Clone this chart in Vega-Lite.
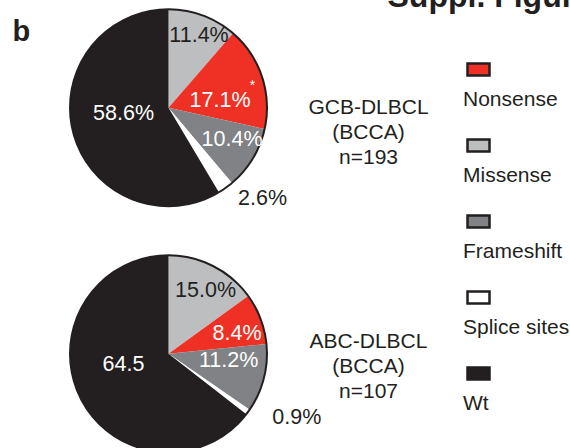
{
  "$schema": "https://vega.github.io/schema/vega-lite/v6.json",
  "width": 337,
  "height": 448,
  "autosize": {"type": "none"},
  "padding": {"left": 0, "top": 0, "right": 233, "bottom": 0},
  "background": "white",
  "config": {
    "view": {"stroke": null},
    "font": "Liberation Sans",
    "text": {"font": "Liberation Sans", "fontSize": 21.5, "baseline": "middle", "align": "center"},
    "axis": {
      "labels": false,
      "ticks": false,
      "domain": false,
      "grid": false,
      "titleAngle": 0,
      "titleAlign": "left",
      "titleBaseline": "alphabetic",
      "titleFont": "Liberation Sans",
      "titleFontWeight": "bold",
      "titleColor": "#231F20"
    }
  },
  "resolve": {"axis": {"y": "independent"}},
  "data": {
    "values": [
      {"group": "GCB-DLBCL", "cohort": "BCCA", "n": 193, "category": "Missense", "pct": 11.4, "note": ""},
      {"group": "GCB-DLBCL", "cohort": "BCCA", "n": 193, "category": "Nonsense", "pct": 17.1, "note": "*"},
      {"group": "GCB-DLBCL", "cohort": "BCCA", "n": 193, "category": "Frameshift", "pct": 10.4, "note": ""},
      {"group": "GCB-DLBCL", "cohort": "BCCA", "n": 193, "category": "Splice sites", "pct": 2.6, "note": ""},
      {"group": "GCB-DLBCL", "cohort": "BCCA", "n": 193, "category": "Wt", "pct": 58.6, "note": ""},
      {"group": "ABC-DLBCL", "cohort": "BCCA", "n": 107, "category": "Missense", "pct": 15.0, "note": ""},
      {"group": "ABC-DLBCL", "cohort": "BCCA", "n": 107, "category": "Nonsense", "pct": 8.4, "note": ""},
      {"group": "ABC-DLBCL", "cohort": "BCCA", "n": 107, "category": "Frameshift", "pct": 11.2, "note": ""},
      {"group": "ABC-DLBCL", "cohort": "BCCA", "n": 107, "category": "Splice sites", "pct": 0.9, "note": ""},
      {"group": "ABC-DLBCL", "cohort": "BCCA", "n": 107, "category": "Wt", "pct": 64.5, "note": ""}
    ]
  },
  "transform": [
    {"calculate": "indexof(['Missense', 'Nonsense', 'Frameshift', 'Splice sites', 'Wt'], datum.category)", "as": "slot"},
    {"stack": "pct", "groupby": ["group"], "sort": [{"field": "slot", "order": "ascending"}], "offset": "normalize", "as": ["t0", "t1"]},
    {"calculate": "(datum.t0 + datum.t1) / 2", "as": "tm"},
    {"calculate": "format(datum.pct, '.1f') + '%'", "as": "plabel"}
  ],
  "encoding": {
    "y": {
      "field": "group",
      "type": "nominal",
      "scale": {"type": "point", "padding": 0, "domain": ["GCB-DLBCL", "ABC-DLBCL"], "range": [107.7, 353.8]},
      "axis": null
    }
  },
  "layer": [
    {
      "mark": {"type": "arc", "radius": 98.5},
      "encoding": {
        "y": {
          "field": "group",
          "type": "nominal",
          "axis": {"orient": "left", "title": "b", "titleX": 12, "titleY": 40, "titleFontSize": 29}
        },
        "theta": {"field": "t0", "type": "quantitative", "scale": {"domain": [0, 1]}, "stack": null},
        "theta2": {"field": "t1"},
        "color": {
          "field": "category",
          "type": "nominal",
          "scale": {
            "domain": ["Nonsense", "Missense", "Frameshift", "Splice sites", "Wt"],
            "range": ["#EE3124", "#BCBEC0", "#808285", "#FFFFFF", "#231F20"]
          },
          "legend": {
            "orient": "none",
            "legendX": 466,
            "legendY": 57,
            "title": null,
            "padding": 0,
            "symbolType": "M-1,-0.55H1V0.55H-1Z",
            "symbolSize": 484,
            "symbolStrokeWidth": 2.5,
            "symbolStrokeColor": "#231F20",
            "symbolOpacity": 1,
            "labelFont": "Liberation Sans",
            "labelFontSize": 21,
            "labelColor": "#231F20",
            "labelOffset": -28,
            "labelLimit": 0,
            "rowPadding": 23,
            "encode": {
              "labels": {"update": {"dy": {"value": 30}}},
              "symbols": {"update": {"stroke": {"value": "#231F20"}, "strokeWidth": {"value": 2.5}}}
            }
          }
        }
      }
    },
    {
      "mark": {"type": "arc", "radius": 98.5, "filled": false, "stroke": "#231F20", "strokeWidth": 2},
      "encoding": {
        "y": {
          "field": "group",
          "type": "nominal",
          "axis": {"orient": "right", "title": "Suppl. Figure", "titleX": 50, "titleY": 6, "titleFontSize": 32}
        },
        "theta": {"field": "t0", "aggregate": "min", "type": "quantitative", "scale": {"domain": [0, 1]}, "stack": null},
        "theta2": {"field": "t1", "aggregate": "max"}
      }
    },
    {
      "transform": [{"filter": "datum.group === 'GCB-DLBCL' && datum.category === 'Missense'"}],
      "mark": {"type": "text", "radius": 77.5, "thetaOffset": 0.047, "color": "#231F20"},
      "encoding": {"theta": {"field": "tm", "type": "quantitative", "scale": {"domain": [0, 1]}, "stack": null}, "text": {"field": "plabel"}}
    },
    {
      "transform": [{"filter": "datum.group === 'GCB-DLBCL' && datum.category === 'Nonsense'"}],
      "mark": {"type": "text", "radius": 51.9, "thetaOffset": 0.198, "color": "#FFFFFF"},
      "encoding": {"theta": {"field": "tm", "type": "quantitative", "scale": {"domain": [0, 1]}, "stack": null}, "text": {"field": "plabel"}}
    },
    {
      "transform": [{"filter": "datum.group === 'GCB-DLBCL' && datum.category === 'Nonsense'"}],
      "mark": {"type": "text", "radius": 86.6, "thetaOffset": 0.071, "color": "#FFFFFF", "fontSize": 14},
      "encoding": {"theta": {"field": "tm", "type": "quantitative", "scale": {"domain": [0, 1]}, "stack": null}, "text": {"field": "note"}}
    },
    {
      "transform": [{"filter": "datum.group === 'GCB-DLBCL' && datum.category === 'Frameshift'"}],
      "mark": {"type": "text", "radius": 71.5, "thetaOffset": -0.068, "color": "#FFFFFF"},
      "encoding": {"theta": {"field": "tm", "type": "quantitative", "scale": {"domain": [0, 1]}, "stack": null}, "text": {"field": "plabel"}}
    },
    {
      "transform": [{"filter": "datum.group === 'GCB-DLBCL' && datum.category === 'Splice sites'"}],
      "mark": {"type": "text", "radius": 131, "thetaOffset": -0.182, "color": "#231F20"},
      "encoding": {"theta": {"field": "tm", "type": "quantitative", "scale": {"domain": [0, 1]}, "stack": null}, "text": {"field": "plabel"}}
    },
    {
      "transform": [{"filter": "datum.group === 'GCB-DLBCL' && datum.category === 'Wt'"}],
      "mark": {"type": "text", "radius": 45.4, "thetaOffset": 0.129, "color": "#FFFFFF"},
      "encoding": {"theta": {"field": "tm", "type": "quantitative", "scale": {"domain": [0, 1]}, "stack": null}, "text": {"field": "plabel"}}
    },
    {
      "transform": [{"filter": "datum.group === 'ABC-DLBCL' && datum.category === 'Missense'"}],
      "mark": {"type": "text", "radius": 72.5, "thetaOffset": 0.065, "color": "#231F20"},
      "encoding": {"theta": {"field": "tm", "type": "quantitative", "scale": {"domain": [0, 1]}, "stack": null}, "text": {"field": "plabel"}}
    },
    {
      "transform": [{"filter": "datum.group === 'ABC-DLBCL' && datum.category === 'Nonsense'"}],
      "mark": {"type": "text", "radius": 71.3, "thetaOffset": 0.084, "color": "#FFFFFF"},
      "encoding": {"theta": {"field": "tm", "type": "quantitative", "scale": {"domain": [0, 1]}, "stack": null}, "text": {"field": "plabel"}}
    },
    {
      "transform": [{"filter": "datum.group === 'ABC-DLBCL' && datum.category === 'Frameshift'"}],
      "mark": {"type": "text", "radius": 60.5, "thetaOffset": -0.133, "color": "#FFFFFF"},
      "encoding": {"theta": {"field": "tm", "type": "quantitative", "scale": {"domain": [0, 1]}, "stack": null}, "text": {"field": "plabel"}}
    },
    {
      "transform": [{"filter": "datum.group === 'ABC-DLBCL' && datum.category === 'Splice sites'"}],
      "mark": {"type": "text", "radius": 143.5, "thetaOffset": -0.168, "color": "#231F20"},
      "encoding": {"theta": {"field": "tm", "type": "quantitative", "scale": {"domain": [0, 1]}, "stack": null}, "text": {"field": "plabel"}}
    },
    {
      "transform": [{"filter": "datum.group === 'ABC-DLBCL' && datum.category === 'Wt'"}],
      "mark": {"type": "text", "radius": 46.4, "thetaOffset": 0.211, "color": "#FFFFFF"},
      "encoding": {"theta": {"field": "tm", "type": "quantitative", "scale": {"domain": [0, 1]}, "stack": null}, "text": {"field": "pct", "type": "quantitative", "format": ".1f"}}
    },
    {
      "transform": [
        {"filter": "datum.group === 'GCB-DLBCL' && datum.category === 'Wt'"},
        {"calculate": "datum.group + '\\n(' + datum.cohort + ')\\nn=' + datum.n", "as": "glabel"}
      ],
      "mark": {"type": "text", "dx": 200, "dy": 0, "fontSize": 21, "lineHeight": 25, "lineBreak": "\n", "color": "#231F20"},
      "encoding": {"text": {"field": "glabel"}}
    },
    {
      "transform": [
        {"filter": "datum.group === 'ABC-DLBCL' && datum.category === 'Wt'"},
        {"calculate": "datum.group + '\\n(' + datum.cohort + ')\\nn=' + datum.n", "as": "glabel"}
      ],
      "mark": {"type": "text", "dx": 200, "dy": -12, "fontSize": 21, "lineHeight": 25, "lineBreak": "\n", "color": "#231F20"},
      "encoding": {"text": {"field": "glabel"}}
    }
  ]
}
